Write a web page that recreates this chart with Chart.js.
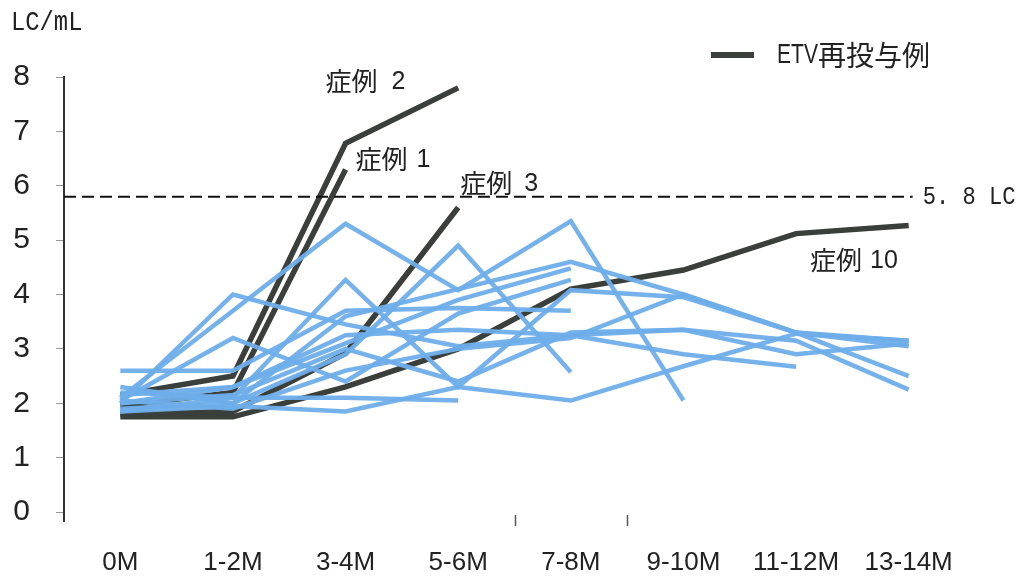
<!DOCTYPE html>
<html>
<head>
<meta charset="utf-8">
<script src="https://cdn.jsdelivr.net/npm/chart.js@4/dist/chart.umd.min.js"></script>
<style>
  html, body { margin: 0; padding: 0; background: #fff; }
  #wrap { width: 1022px; height: 583px; position: relative; }
</style>
</head>
<body>
<div id="wrap"><canvas id="c" width="1022" height="583"></canvas></div>
<script>
// Sampling periods (months after start)
const categories = ['0M', '1-2M', '3-4M', '5-6M', '7-8M', '9-10M', '11-12M', '13-14M'];
const yTicks = [0, 1, 2, 3, 4, 5, 6, 7, 8];
const thresholdValue = 5.8;

// HBV DNA (LC/mL), cases without ETV re-administration
const blue01 = [2.1, 3.7, 5.3, 4.08, 5.35, 2.05];
const blue02 = [2.0, 4.0, 3.45, 3.05, 3.25, 2.9, 2.67];
const blue03 = [2.05, 3.2, 2.4, 3.65, 4.27];
const blue04 = [2.2, 2.1, 4.27, 2.3, 4.08, 3.95, 3.3, 3.05];
const blue05 = [1.9, 2.0, 2.9, 4.9, 2.57];
const blue06 = [1.85, 1.95, 1.85, 2.3, 2.05, 2.68, 3.28, 3.15];
const blue07 = [2.6, 2.6, 3.7, 3.75, 3.7];
const blue08 = [2.3, 2.0, 3.6, 4.1, 4.6, 4.0, 3.3, 2.5];
const blue09 = [2.0, 2.3, 3.1, 3.9, 4.48];
const blue10 = [1.85, 2.1, 2.1, 2.05];
const blue11 = [2.15, 2.3, 3.25, 3.35, 3.25, 3.35, 3.15, 2.25];
const blue12 = [2.05, 1.9, 2.6, 3.0, 3.2, 4.0, 3.3, 3.15];
const blue13 = [2.0, 2.15, 3.0, 2.4, 3.3, 3.35, 2.9, 3.1];

// Cases with ETV re-administration
const case1 = [1.95, 2.2, 6.3];
const case2 = [2.15, 2.5, 6.78, 7.8];
const case3 = [1.8, 1.85, 2.92, 5.6];
const case10 = [1.75, 1.75, 2.3, 3.0, 4.1, 4.45, 5.12, 5.27];

const BLUE = 'rgba(110,174,234,0.95)';
const DARK = '#3a3f3b';

const blueSeries = [blue01, blue02, blue03, blue04, blue05, blue06, blue07,
                    blue08, blue09, blue10, blue11, blue12, blue13];
const darkSeries = [
  { name: '症例 1', data: case1 },
  { name: '症例 2', data: case2 },
  { name: '症例 3', data: case3 },
  { name: '症例 10', data: case10 }
];

const datasets = [];
blueSeries.forEach((d, i) => datasets.push({
  label: 'blue' + (i + 1), data: d, borderColor: BLUE, borderWidth: 4.5,
  pointRadius: 0, tension: 0, fill: false, borderJoinStyle: 'miter'
}));
darkSeries.forEach(s => datasets.push({
  label: s.name, data: s.data, borderColor: DARK, borderWidth: 5.5,
  pointRadius: 0, tension: 0, fill: false, borderJoinStyle: 'miter'
}));

function condensedText(ctx, text, x, y, font, sx) {
  ctx.save();
  ctx.font = font;
  ctx.translate(x, y);
  ctx.scale(sx, 1);
  ctx.fillText(text, 0, 0);
  ctx.restore();
}

// Threshold line, case labels, legend, unit label and axis details
const decorations = {
  id: 'decorations',
  afterDatasetsDraw(chart) {
    const ctx = chart.ctx;
    const xs = chart.scales.x, ys = chart.scales.y;
    const area = chart.chartArea;

    ctx.save();
    // y axis runs slightly past zero
    ctx.strokeStyle = '#333';
    ctx.lineWidth = 2;
    ctx.beginPath();
    ctx.moveTo(area.left, area.bottom);
    ctx.lineTo(area.left, area.bottom + 10);
    ctx.stroke();

    // category boundary marks under 7-8M
    ctx.strokeStyle = '#555';
    ctx.lineWidth = 1.5;
    [3.5, 4.5].forEach(v => {
      const bx = Math.round(xs.getPixelForValue(v)) + 0.5;
      ctx.beginPath();
      ctx.moveTo(bx, area.bottom + 3);
      ctx.lineTo(bx, area.bottom + 14);
      ctx.stroke();
    });

    // 5.8 LC threshold
    const ty = ys.getPixelForValue(thresholdValue);
    ctx.strokeStyle = '#111';
    ctx.lineWidth = 2;
    ctx.setLineDash([12, 6]);
    ctx.beginPath();
    ctx.moveTo(area.left, ty);
    ctx.lineTo(xs.getPixelForValue(7) + 4, ty);
    ctx.stroke();
    ctx.setLineDash([]);

    ctx.fillStyle = '#222';
    ctx.textBaseline = 'middle';
    ctx.textAlign = 'left';
    condensedText(ctx, '5. 8 LC', xs.getPixelForValue(7) + 14, ty, '26px "Liberation Mono"', 0.85);

    // case labels anchored on their lines
    const label = (txt, xi, v, dx, dy, gap) => {
      ctx.font = '26px "Noto Sans CJK JP"';
      const px = xs.getPixelForValue(xi) + dx;
      const py = ys.getPixelForValue(v) + dy;
      ctx.fillText('症例', px, py);
      ctx.font = '25px "Liberation Sans"';
      ctx.fillText(txt, px + gap, py + 1);
    };
    label('2', 2, case2[2], -20, -62, 66);
    label('1', 2, case1[2], 10, -10, 61);
    label('3', 3, case3[3], 2, -24, 64);
    label('10', 6, case10[6], 14, 27, 60);

    // legend
    ctx.strokeStyle = DARK;
    ctx.lineWidth = 6;
    ctx.beginPath();
    ctx.moveTo(711, 55);
    ctx.lineTo(754, 55);
    ctx.stroke();
    condensedText(ctx, 'ETV', 777, 56, '27px "Liberation Sans"', 0.78);
    ctx.font = '28px "Noto Sans CJK JP"';
    ctx.fillText('再投与例', 818, 55);

    // unit
    condensedText(ctx, 'LC/mL', 11, 23, '28px "Liberation Mono"', 0.85);
    ctx.restore();
  }
};

new Chart(document.getElementById('c'), {
  type: 'line',
  data: { labels: categories, datasets },
  plugins: [decorations],
  options: {
    responsive: false,
    animation: false,
    events: [],
    layout: { padding: { top: 77, right: 57, bottom: 0, left: 0 } },
    plugins: { legend: { display: false }, tooltip: { enabled: false } },
    scales: {
      x: {
        type: 'category',
        offset: true,
        grid: { display: false, drawTicks: false },
        border: { display: false },
        ticks: { padding: 35, color: '#222', font: { family: 'Liberation Sans', size: 26 }, maxRotation: 0, autoSkip: false },
        afterFit(s) { s.height = 71; }
      },
      y: {
        min: 0, max: 8,
        afterBuildTicks(s) { s.ticks = yTicks.map(v => ({ value: v })); },
        grid: { drawOnChartArea: false, drawTicks: true, tickLength: 8, color: '#999' },
        border: { display: true, color: '#333', width: 2 },
        ticks: { padding: 26, color: '#222', font: { family: 'Liberation Sans', size: 30 } },
        afterFit(s) { s.width = 64; }
      }
    }
  }
});
</script>
</body>
</html>
